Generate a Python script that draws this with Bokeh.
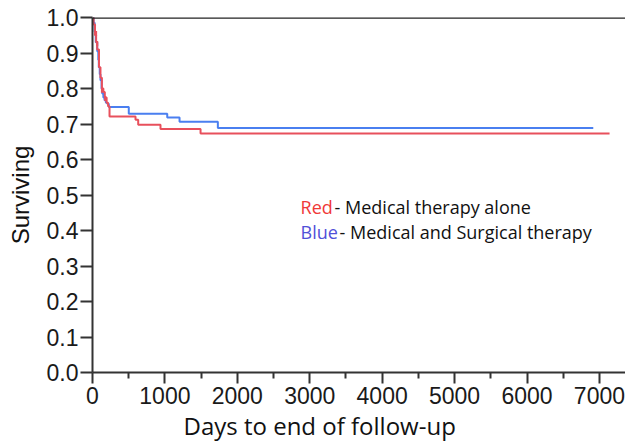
from bokeh.plotting import figure
from bokeh.models import Range1d, FixedTicker, Span, Label, CustomJSTickFormatter, Title
from bokeh.embed import file_html
from bokeh.resources import INLINE

# Kaplan-Meier step data (days, surviving fraction after event)
blue_times = [0, 15, 30, 45, 65, 80, 87, 100, 110, 125, 134, 150, 166, 185, 203, 225, 501, 1032, 1202, 1731, 6915]
blue_surv = [1.0, 0.985, 0.96, 0.93, 0.905, 0.88, 0.86, 0.84, 0.823, 0.80, 0.786, 0.775, 0.767, 0.76, 0.757, 0.748, 0.729, 0.718, 0.706, 0.689, 0.689]

red_times = [0, 15, 35, 50, 65, 90, 110, 130, 150, 170, 195, 215, 235, 594, 631, 939, 1492, 7140]
red_surv = [1.0, 0.98, 0.95, 0.93, 0.91, 0.86, 0.83, 0.80, 0.79, 0.775, 0.76, 0.75, 0.721, 0.712, 0.698, 0.686, 0.673, 0.673]

red_cens_t = [50, 65, 130, 175]
red_cens_s = [0.955, 0.927, 0.795, 0.772]

x_ticks = [0, 1000, 2000, 3000, 4000, 5000, 6000, 7000]
x_minor = [500, 1500, 2500, 3500, 4500, 5500, 6500]
y_ticks = [0.0, 0.1, 0.2, 0.3, 0.4, 0.5, 0.6, 0.7, 0.8, 0.9, 1.0]

x_title = "Days to end of follow-up"
y_title = "Surviving"

p = figure(width=625, height=441, output_backend="svg", toolbar_location=None,
           x_range=Range1d(0, 7360), y_range=Range1d(0, 1.0),
           min_border_left=92, min_border_top=17, min_border_right=0, min_border_bottom=68)
p.outline_line_color = None
p.grid.visible = False
p.background_fill_color = "white"

p.step(blue_times, blue_surv, mode="after", line_color="#4a7ff0", line_width=2)
p.step(red_times, red_surv, mode="after", line_color="#e8505c", line_width=2)
p.scatter(red_cens_t, red_cens_s, marker="dash", angle=1.5708, size=5, line_color="#e8505c", line_width=2)

p.add_layout(Span(location=1.0, dimension="width", line_color="#222222", line_width=2.5))

for ax in (p.xaxis[0], p.yaxis[0]):
    ax.axis_line_color = "#333333"
    ax.axis_line_width = 2
    ax.major_tick_line_color = "#333333"
    ax.major_tick_line_width = 2
    ax.minor_tick_line_color = "#333333"
    ax.minor_tick_line_width = 2
    ax.major_tick_in = 0
    ax.minor_tick_in = 0
    ax.major_label_text_font = "Liberation Sans"
    ax.major_label_text_font_size = "23px"
    ax.major_label_text_color = "#1a1a1a"

p.xaxis.ticker = FixedTicker(ticks=x_ticks, minor_ticks=x_minor)
p.xaxis.major_tick_out = 11
p.xaxis.minor_tick_out = 6
p.xaxis.major_label_standoff = 3

p.add_layout(Title(text=x_title, align="left", offset=91, text_color="#111111", text_font="Open Sans",
                   text_font_size="24px", text_font_style="normal", standoff=0), "below")

p.yaxis.ticker = FixedTicker(ticks=y_ticks, minor_ticks=[])
p.yaxis.major_tick_out = 12
p.yaxis.major_label_standoff = 2
p.yaxis.formatter = CustomJSTickFormatter(code="return tick.toFixed(1);")
p.yaxis.axis_label = y_title
p.yaxis.axis_label_text_font = "Liberation Sans"
p.yaxis.axis_label_text_font_style = "normal"
p.yaxis.axis_label_text_font_size = "24px"
p.yaxis.axis_label_text_color = "#111111"
p.yaxis.axis_label_standoff = 10

lab_font = "Open Sans"
lab_size = "18px"
p.add_layout(Label(x=2873, y=0.466, text="Red", text_color="#f03838", text_font=lab_font,
                   text_font_size=lab_size, text_baseline="middle"))
p.add_layout(Label(x=2873, y=0.466, x_offset=34, text="- Medical therapy alone", text_color="#111111",
                   text_font=lab_font, text_font_size=lab_size, text_baseline="middle"))
p.add_layout(Label(x=2873, y=0.396, text="Blue", text_color="#5050d8", text_font=lab_font,
                   text_font_size=lab_size, text_baseline="middle"))
p.add_layout(Label(x=2873, y=0.396, x_offset=39, text="- Medical and Surgical therapy", text_color="#111111",
                   text_font=lab_font, text_font_size=lab_size, text_baseline="middle"))

open("out.html", "w").write(file_html(p, INLINE))
